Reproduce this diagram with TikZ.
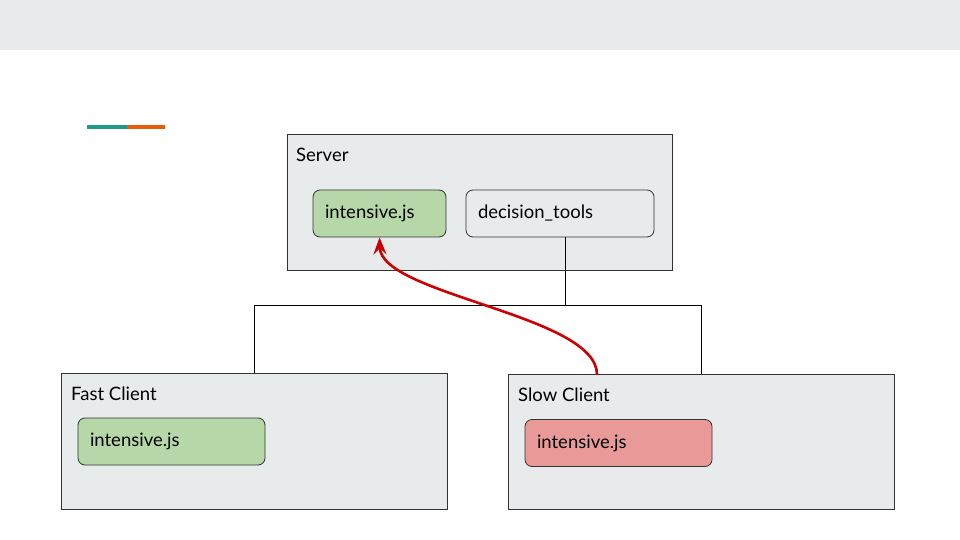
\documentclass[tikz,border=0pt]{standalone}
\usepackage{fontspec}
\setmainfont{Lato}
\usetikzlibrary{arrows.meta}
\definecolor{panelgray}{HTML}{E8EBEB}
\definecolor{edgegray}{HTML}{333333}
\definecolor{jsgreen}{HTML}{B6D7A8}
\definecolor{jsred}{HTML}{EA9999}
\definecolor{arrowred}{HTML}{CC0000}
\definecolor{accteal}{HTML}{21998A}
\definecolor{accorange}{HTML}{E65C0C}

\begin{document}
\begin{tikzpicture}[x=1pt,y=-1pt,
  every node/.style={font=\fontsize{18.5}{21}\selectfont},
  panel/.style={shape=rectangle,draw=edgegray,fill=panelgray,line width=0.8pt},
  module/.style={shape=rectangle,rounded corners=7pt,draw=edgegray,line width=0.8pt,
    minimum height=47pt,text width=#1,align=left,inner xsep=12pt},
  title/.style={anchor=west,inner sep=0pt}]
\useasboundingbox (0,0) rectangle (960,540);
\fill[panelgray] (0,0) rectangle (960,50);
\draw[accteal,line width=4pt] (87,127) -- (127,127);
\draw[accorange,line width=4pt] (127,127) -- (165,127);

% boxes
\path (479.5,202) node (server) [panel,minimum width=385pt,minimum height=136pt] {};
\path (254,441) node (fast) [panel,minimum width=386pt,minimum height=136pt] {};
\path (701,442) node (slow) [panel,minimum width=386pt,minimum height=134.5pt] {};

\path (296,155) node (serverlbl) [title] {Server};
\path (71,394) node (fastlbl) [title] {Fast Client};
\path (518,395) node (slowlbl) [title] {Slow Client};

% modules
\path (379.5,213.5) node (ijs) [module=109pt,fill=jsgreen] {intensive.js};
\path (560,213.5) node (dtools) [module=164pt,fill=panelgray] {decision\_tools};
\path (171.5,441.5) node (fjs) [module=163pt,fill=jsgreen] {intensive.js};
\path (618.5,443) node (sjs) [module=163pt,fill=jsred] {intensive.js};

% links
\coordinate (bus) at (565,305);
\coordinate (ret) at (597,374.5);
\draw [line width=0.8pt] (dtools.south -| bus) -- (bus);
\draw [line width=0.8pt] (bus) -| (fast.north);
\draw [line width=0.8pt] (bus) -| (slow.north);

\draw [-{Stealth[length=17pt,width=13pt,inset=6pt]},arrowred,line width=2.6pt]
  (ret) .. controls (597,315) and (381,295) .. (ijs.south);
\end{tikzpicture}
\end{document}
